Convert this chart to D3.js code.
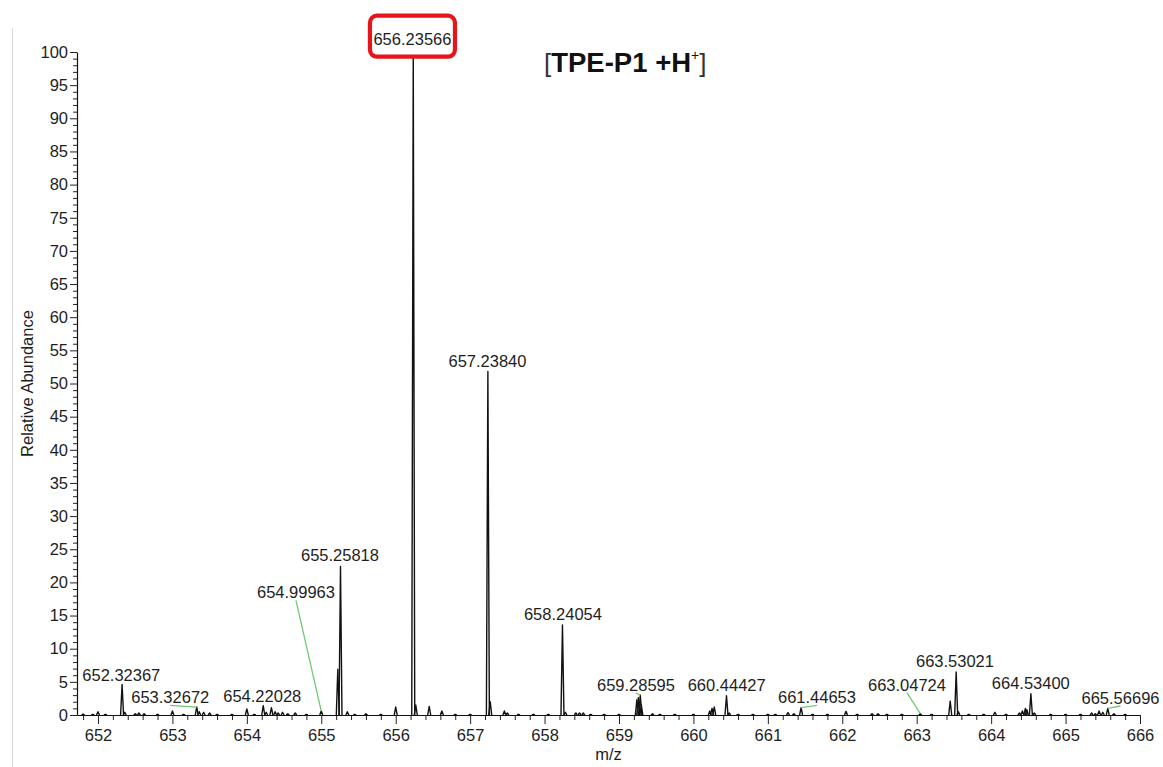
<!DOCTYPE html>
<html>
<head>
<meta charset="utf-8">
<script src="https://cdn.jsdelivr.net/npm/d3@7"></script>
<style>
  html, body { margin: 0; padding: 0; background: #fff; }
  svg { display: block; font-family: "Liberation Sans", Arial, sans-serif; }
</style>
</head>
<body>
<svg id="chart" width="1163" height="767"></svg>
<script>
// ---------------- data ----------------
const peakMz = [
  651.80, 651.93, 652.00, 652.10, 652.32367, 652.36, 652.50, 652.55, 652.62, 652.80,
  653.00, 653.15, 653.32672, 653.36, 653.42, 653.50, 653.60, 653.80,
  654.00, 654.10, 654.22028, 654.26, 654.33, 654.38, 654.42, 654.48, 654.55, 654.65, 654.80, 654.99963,
  655.222, 655.25818, 655.35, 655.45, 655.60, 655.80,
  656.00, 656.23566, 656.27, 656.45, 656.62, 656.80,
  657.00, 657.23840, 657.27, 657.46, 657.50, 657.65, 657.85,
  658.05, 658.24054, 658.28, 658.42, 658.47, 658.52, 658.62, 658.80,
  659.00, 659.24, 659.26, 659.28595, 659.30, 659.45, 659.55, 659.75,
  660.00, 660.22, 660.25, 660.28, 660.44427, 660.48, 660.60, 660.80,
  661.00, 661.10, 661.27, 661.35, 661.44653, 661.60, 661.80,
  662.05, 662.20, 662.40, 662.48, 662.60, 662.80,
  663.04724, 663.20, 663.45, 663.53021, 663.56, 663.70, 663.90,
  664.05, 664.20, 664.38, 664.42, 664.46, 664.48, 664.53400, 664.58, 664.80,
  665.00, 665.20, 665.35, 665.40, 665.45, 665.50, 665.56696, 665.65, 665.80
];
const peakAbundance = [
  0.15, 0.1, 0.5, 0.1, 4.6, 0.4, 0.2, 0.3, 0.2, 0.1,
  0.6, 0.1, 1.2, 0.5, 0.4, 0.3, 0.1, 0.1,
  0.9, 0.1, 1.4, 0.4, 1.1, 0.5, 0.3, 0.4, 0.2, 0.3, 0.1, 0.6,
  6.9, 22.4, 0.5, 0.1, 0.2, 0.1,
  1.2, 100, 1.5, 1.3, 0.6, 0.1,
  0.1, 51.8, 2.0, 0.6, 0.3, 0.1, 0.1,
  0.1, 13.6, 0.4, 0.3, 0.3, 0.3, 0.1, 0.1,
  0.1, 2.3, 2.6, 3.0, 1.5, 0.2, 0.1, 0.1,
  0.1, 0.6, 1.0, 1.2, 2.9, 0.3, 0.1, 0.1,
  0.1, 0.1, 0.35, 0.2, 1.1, 0.1, 0.1,
  0.55, 0.1, 0.2, 0.2, 0.1, 0.1,
  0.2, 0.1, 2.1, 6.5, 0.5, 0.1, 0.1,
  0.4, 0.1, 0.3, 0.6, 1.0, 0.8, 3.2, 0.3, 0.1,
  0.1, 0.1, 0.3, 0.2, 0.6, 0.4, 1.0, 0.2, 0.1
];

// annotated peaks: label text, label anchor (m/z, abundance), labelled peak, leader line?
const labelText = ["652.32367","653.32672","654.22028","654.99963","655.25818","656.23566",
  "657.23840","658.24054","659.28595","660.44427","661.44653","663.04724","663.53021","664.53400","665.56696"];
const labelMz = [652.313, 652.971, 654.207, 654.660, 655.251, 656.225,
  657.233, 658.247, 659.228, 660.447, 661.660, 662.869, 663.514, 664.533, 665.738];
const labelAbundance = [5.1, 1.76, 2.0, 17.6, 23.2, 101.1,
  52.5, 14.3, 3.6, 3.6, 1.76, 3.67, 7.2, 3.9, 1.66];
const labelPeakMz = [652.32367, 653.32672, 654.22028, 654.99963, 655.25818, 656.23566,
  657.23840, 658.24054, 659.28595, 660.44427, 661.44653, 663.04724, 663.53021, 664.53400, 665.56696];
const labelLeader = [false, true, false, true, false, false,
  false, false, true, false, true, true, false, false, true];
const boxedLabel = "656.23566";

const xDomain = [651.718, 666];
const yDomain = [0, 100];
const xMajorTicks = d3.range(652, 667, 1);
const xMinorTicks = d3.range(0, 72).map(i => +(651.8 + i * 0.2).toFixed(1)).filter(v => v <= 666 && Math.abs(v - Math.round(v)) > 1e-6);
const yMajorTicks = d3.range(0, 101, 5);
const yMinorTicks = d3.range(0, 101, 1).filter(v => v % 5 !== 0);

const xTitle = "m/z";
const yTitle = "Relative Abundance";

// ---------------- drawing ----------------
const svg = d3.select("#chart");
const plot = { left: 77, right: 1140, top: 52, bottom: 715 };
const x = d3.scaleLinear().domain(xDomain).range([plot.left, plot.right]);
const y = d3.scaleLinear().domain(yDomain).range([plot.bottom, plot.top]);
const textColor = "#1e1e1e";
const fs = 16.5;
const peakHalfWidth = 0.02;

// faint frame line at left edge of the original figure
svg.append("line").attr("x1", 12.5).attr("x2", 12.5).attr("y1", 28).attr("y2", 767)
  .attr("stroke", "#dadada").attr("stroke-width", 1);

// peaks
const peaks = peakMz.map((m, i) => ({ mz: m, ab: peakAbundance[i] }));
const line = d3.line().x(d => x(d[0])).y(d => y(d[1]));
svg.append("g").selectAll("path").data(peaks).join("path")
  .attr("d", d => line([[d.mz - peakHalfWidth, 0], [d.mz, d.ab], [d.mz + peakHalfWidth, 0]]))
  .attr("fill", "none").attr("stroke", "#111").attr("stroke-width", 1.4)
  .attr("stroke-linejoin", "round");

// x axis
const gx = svg.append("g").attr("transform", `translate(0,${plot.bottom})`);
gx.append("g").call(d3.axisBottom(x).tickValues(xMinorTicks).tickSize(5).tickFormat(""))
  .call(g => g.select(".domain").remove());
gx.append("g").call(d3.axisBottom(x).tickValues(xMajorTicks).tickSize(9).tickPadding(5).tickFormat(d3.format("d")).tickSizeOuter(0))
  .call(g => g.selectAll("text").attr("font-size", fs).attr("fill", textColor).attr("font-family", "Liberation Sans, Arial, sans-serif"));
gx.selectAll("line").attr("stroke", "#222");
gx.selectAll(".domain").attr("stroke", "#111").attr("stroke-width", 1.2);

// y axis
const gy = svg.append("g").attr("transform", `translate(${plot.left},0)`);
gy.append("g").call(d3.axisLeft(y).tickValues(yMinorTicks).tickSize(4).tickFormat(""))
  .call(g => g.select(".domain").remove());
gy.append("g").call(d3.axisLeft(y).tickValues(yMajorTicks).tickSize(7).tickPadding(2).tickFormat(d3.format("d")).tickSizeOuter(0))
  .call(g => g.selectAll("text").attr("font-size", fs).attr("fill", textColor).attr("font-family", "Liberation Sans, Arial, sans-serif"));
gy.selectAll("line").attr("stroke", "#222");
gy.selectAll(".domain").attr("stroke", "#111").attr("stroke-width", 1.2);

// axis titles
svg.append("text").attr("x", (plot.left + plot.right) / 2).attr("y", 760)
  .attr("text-anchor", "middle").attr("font-size", fs).attr("fill", textColor).text(xTitle);
svg.append("text").attr("transform", `translate(33,${(plot.top + plot.bottom) / 2}) rotate(-90)`)
  .attr("text-anchor", "middle").attr("font-size", fs).attr("fill", textColor).text(yTitle);

// leader lines
const labels = labelText.map((t, i) => ({
  text: t, mz: labelMz[i], ab: labelAbundance[i], peakMz: labelPeakMz[i], leader: labelLeader[i],
  peakAb: peakAbundance[peakMz.indexOf(labelPeakMz[i])]
}));
svg.append("g").selectAll("line").data(labels.filter(d => d.leader)).join("line")
  .attr("x1", d => x(d.mz)).attr("y1", d => y(d.ab) + 2)
  .attr("x2", d => x(d.peakMz)).attr("y2", d => y(d.peakAb))
  .attr("stroke", "#74c874").attr("stroke-width", 1.3);

// boxed label (highlight)
const boxed = labels.find(d => d.text === boxedLabel);
svg.append("rect")
  .attr("x", x(boxed.mz) - 42.5).attr("y", y(boxed.ab) - 29)
  .attr("width", 85).attr("height", 41).attr("rx", 7).attr("ry", 7)
  .attr("fill", "#fff").attr("stroke", "#e8141b").attr("stroke-width", 4.2);

// peak labels
svg.append("g").selectAll("text").data(labels).join("text")
  .attr("x", d => x(d.mz)).attr("y", d => y(d.ab))
  .attr("text-anchor", "middle").attr("font-size", fs).attr("fill", textColor)
  .text(d => d.text);

// title
const title = svg.append("text").attr("x", 544).attr("y", 72).attr("fill", "#111");
title.append("tspan").attr("font-size", 26).attr("font-weight", "normal").attr("fill", "#333").text("[");
title.append("tspan").attr("font-size", 27.5).attr("font-weight", "bold").text("TPE-P1 +H");
title.append("tspan").attr("font-size", 14).attr("font-weight", "normal").attr("dy", -12).text("+");
title.append("tspan").attr("font-size", 26).attr("font-weight", "normal").attr("fill", "#333").attr("dy", 12).text("]");
</script>
</body>
</html>
